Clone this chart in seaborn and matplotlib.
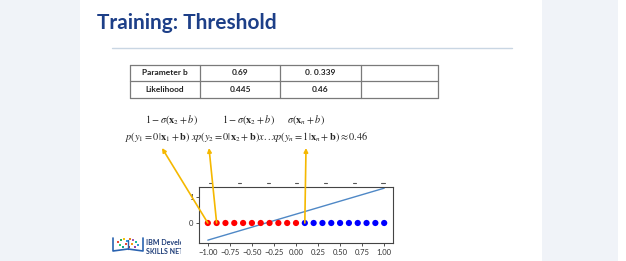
import numpy as np
import pandas as pd
import matplotlib
matplotlib.use("Agg")
import matplotlib.pyplot as plt
import seaborn as sns
from matplotlib.patches import Rectangle
from matplotlib.lines import Line2D

# ---------------- data ----------------
point_x = [-1.0, -0.9, -0.8, -0.7, -0.6, -0.5, -0.4, -0.3, -0.2, -0.1, 0.0,
           0.1, 0.2, 0.3, 0.4, 0.5, 0.6, 0.7, 0.8, 0.9, 1.0]
point_y = [0] * 21
point_class = ["0"] * 11 + ["1"] * 10
line_x = [-1.0, 1.0]
line_y = [-0.66, 1.34]
x_ticks = [-1.00, -0.75, -0.50, -0.25, 0.00, 0.25, 0.50, 0.75, 1.00]
y_ticks = [0, 1]

table_rows = ["Parameter b", "Likelihood"]
table_col2 = ["0.69", "0.445"]
table_col3 = ["0. 0.339", "0.46"]

title = "Training: Threshold"

W, H = 626, 261
def fx(px):
    return px / W
def fy(py):
    return 1 - py / H

sns.set_style("white")
plt.rcParams["font.family"] = ["Lato", "DejaVu Sans"]
plt.rcParams["mathtext.fontset"] = "stix"

fig = plt.figure(figsize=(6.26, 2.61), dpi=100)
fig.patch.set_facecolor("white")

# background side panels
for x0, x1 in [(0, 80), (542, 618)]:
    fig.patches.append(Rectangle((fx(x0), 0), fx(x1) - fx(x0), 1, transform=fig.transFigure,
                                 facecolor="#f0f3f8", edgecolor="none", zorder=0))

# title
fig.text(fx(97), fy(29), title, fontsize=15, fontweight="bold", color="#1d3f88",
         ha="left", va="baseline")
fig.lines.append(Line2D([fx(112), fx(512)], [fy(47.5), fy(47.5)], transform=fig.transFigure,
                        color="#c9d6e3", lw=1))

# table
tx = [130, 200, 280, 361, 438]
ty = [65, 81, 98]
tcol = "#7a7a7a"
for y in ty:
    fig.lines.append(Line2D([fx(tx[0]), fx(tx[-1])], [fy(y), fy(y)], transform=fig.transFigure,
                            color=tcol, lw=0.9))
for x in tx:
    fig.lines.append(Line2D([fx(x), fx(x)], [fy(ty[0]), fy(ty[-1])], transform=fig.transFigure,
                            color=tcol, lw=0.9))
for i in range(2):
    yc = fy((ty[i] + ty[i + 1]) / 2)
    fig.text(fx((tx[0] + tx[1]) / 2), yc, table_rows[i], fontsize=6, fontweight="bold",
             ha="center", va="center", color="#222222")
    fig.text(fx((tx[1] + tx[2]) / 2), yc, table_col2[i], fontsize=6, fontweight="bold",
             ha="center", va="center", color="#222222")
    fig.text(fx((tx[2] + tx[3]) / 2), yc, table_col3[i], fontsize=6, fontweight="bold",
             ha="center", va="center", color="#222222")

# formulas
fcol = "#222222"
fs = 7.4
fig.text(fx(145), fy(120), r"$1-\sigma(\mathbf{x}_2+b)$", fontsize=fs, color=fcol, va="center")
fig.text(fx(222), fy(120), r"$1-\sigma(\mathbf{x}_2+b)$", fontsize=fs, color=fcol, va="center")
fig.text(fx(287), fy(120), r"$\sigma(\mathbf{x}_n+b)$", fontsize=fs, color=fcol, va="center")
fig.text(fx(125), fy(137),
         r"$p(y_1=0|\mathbf{x}_1+\mathbf{b})\ xp(y_2=0|\mathbf{x}_2+\mathbf{b})x..xp(y_n=1|\mathbf{x}_n+\mathbf{b})\approx 0.46$",
         fontsize=fs, color=fcol, va="center")

# top dashes (cut-off labels of a plot above)
for px in [210, 239, 268, 296, 325, 354, 383]:
    fig.lines.append(Line2D([fx(px - 1.5), fx(px + 1.5)], [fy(183), fy(183)],
                            transform=fig.transFigure, color="#555555", lw=0.8))

# main axes
ax = fig.add_axes([fx(199), fy(243), fx(393) - fx(199), fy(187) - fy(243)])
df = pd.DataFrame({"x": point_x, "y": point_y, "cls": point_class})
sns.lineplot(x=line_x, y=line_y, ax=ax, color="#4f88c6", lw=1.0)
sns.scatterplot(data=df, x="x", y="y", hue="cls", palette={"0": "#ff0000", "1": "#0000ff"},
                s=20, linewidth=0, legend=False, ax=ax, zorder=3)
ax.set_xlim(-1.1, 1.1)
ax.set_ylim(-0.77, 1.385)
ax.set_xticks(x_ticks)
ax.set_xticklabels([f"{v:.2f}".replace("-", "\u2212") for v in x_ticks])
ax.set_yticks(y_ticks)
ax.set_xlabel("")
ax.set_ylabel("")
ax.tick_params(axis="both", labelsize=5.5, colors="#333333", length=2.5, width=0.6, pad=1.5,
               bottom=True, left=True)
for s in ax.spines.values():
    s.set_color("#444444")
    s.set_linewidth(0.8)

# gold arrows from points to formula
gold = "#f5b800"
targets = [(162, 148), (209, 148), (306, 148)]
sources = [0, 1, 11]
for (tpx, tpy), si in zip(targets, sources):
    ax.annotate("", xy=(fx(tpx), fy(tpy)), xycoords="figure fraction",
                xytext=(point_x[si], point_y[si]), textcoords="data",
                arrowprops=dict(arrowstyle="-|>", color=gold, lw=1.2, mutation_scale=6,
                                shrinkA=0, shrinkB=0),
                annotation_clip=False, zorder=5)

# logo
blue = "#2a63b0"
fig.lines.append(Line2D([fx(113), fx(113), fx(128), fx(143), fx(143)],
                        [fy(238), fy(251), fy(249), fy(251), fy(238)],
                        transform=fig.transFigure, color=blue, lw=1.2))
fig.lines.append(Line2D([fx(128), fx(128)], [fy(240), fy(249)], transform=fig.transFigure,
                        color=blue, lw=1.0))
dots_x = [118, 121, 124, 127, 130, 133, 136, 120, 126, 132, 138, 123, 129, 135]
dots_y = [242, 240, 239, 241, 239, 240, 242, 245, 244, 244, 245, 247, 247, 247]
dots_c = ["#e74c3c", "#27ae60", "#f1c40f", "#3498db", "#e67e22", "#9b59b6", "#1abc9c",
          "#2ecc71", "#e74c3c", "#f39c12", "#3498db", "#16a085", "#c0392b", "#8e44ad"]
for dx, dy, dc in zip(dots_x, dots_y, dots_c):
    fig.patches.append(Rectangle((fx(dx - 1), fy(dy + 1)), fx(2), 2 / H, transform=fig.transFigure,
                                 facecolor=dc, edgecolor="none"))
fig.text(fx(146), fy(243), "IBM Develop", fontsize=5, color="#1d3c78", va="center",
         fontweight="bold")
fig.text(fx(146), fy(252), "SKILLS NETW", fontsize=5, color="#1d3c78", va="center",
         fontweight="bold")
fig.patches.append(Rectangle((fx(181), fy(258)), fx(198) - fx(181), fy(235) - fy(258),
                             transform=fig.transFigure, facecolor="white", edgecolor="none",
                             zorder=10))

fig.savefig("out.png", dpi=100, facecolor=fig.get_facecolor())
